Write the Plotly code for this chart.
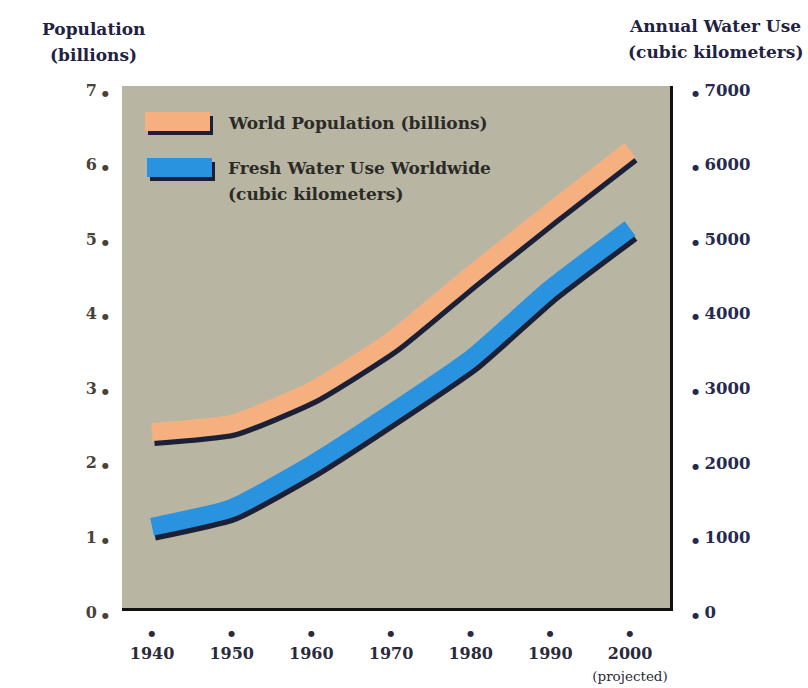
import plotly.graph_objects as go

# ---------------- data ----------------
years = [1940, 1950, 1960, 1970, 1980, 1990, 2000]
population_billions = [2.36, 2.47, 2.91, 3.58, 4.46, 5.31, 6.14]
water_use_km3 = [1090, 1340, 1920, 2610, 3340, 4280, 5090]

year_labels = ["1940", "1950", "1960", "1970", "1980", "1990", "2000"]
year_notes = ["", "", "", "", "", "", "(projected)"]
pop_ticks = [0, 1, 2, 3, 4, 5, 6, 7]
water_ticks = [0, 1000, 2000, 3000, 4000, 5000, 6000, 7000]

series_names = ["World Population (billions)",
                "Fresh Water Use Worldwide<br>(cubic kilometers)"]

# ---------------- layout geometry / style ----------------
W, H = 808, 688
PL, PR, PT, PB = 122, 670, 86, 608          # plot area in pixels
X_RANGE = [1936.23, 2005.02]
Y_RANGE = [0, 7]
Y2_RANGE = [0, 7000]
SH_X = 0.25       # shadow shift right (years)
SH_YP = 0.067     # shadow shift down (billions)
SH_YW = 67        # shadow shift down (km3)

ORANGE = "#f6b080"
BLUE = "#2a93e0"
SHADOW = "#1b2036"
BG = "rgb(184,182,163)"
FONT = "DejaVu Serif"
LINE_W = 18
LINE_SHAPE = dict(shape="spline", smoothing=0.5)


def px(xp):
    return (xp - PL) / (PR - PL)


def py(yp):
    return (PB - yp) / (PB - PT)


fig = go.Figure()

# shadows (base, shifted axes)
fig.add_trace(go.Scatter(x=years, y=population_billions, xaxis="x", yaxis="y",
                         mode="lines", line=dict(color=SHADOW, width=LINE_W, **LINE_SHAPE),
                         hoverinfo="skip", showlegend=False))
fig.add_trace(go.Scatter(x=years, y=water_use_km3, xaxis="x", yaxis="y2",
                         mode="lines", line=dict(color=SHADOW, width=LINE_W, **LINE_SHAPE),
                         hoverinfo="skip", showlegend=False))
# main ribbons (visible axes)
fig.add_trace(go.Scatter(x=years, y=population_billions, xaxis="x2", yaxis="y3",
                         name=series_names[0], mode="lines",
                         line=dict(color=ORANGE, width=LINE_W, **LINE_SHAPE),
                         showlegend=False))
fig.add_trace(go.Scatter(x=years, y=water_use_km3, xaxis="x2", yaxis="y4",
                         name=series_names[1].replace("<br>", " "), mode="lines",
                         line=dict(color=BLUE, width=LINE_W, **LINE_SHAPE),
                         showlegend=False))

dot = "<span style='font-size:8px'>●</span>"
x_ticktext = []
for lab, note in zip(year_labels, year_notes):
    t = dot + "<br><span style='font-size:16px'><b>" + lab + "</b></span>"
    if note:
        t += "<br><span style='font-size:13.5px'>" + note + "</span>"
    x_ticktext.append(t)

left_ticktext = ["<b>%d</b> %s" % (v, dot) for v in pop_ticks]
right_ticktext = ["%s <b>%d</b>" % (dot, v) for v in water_ticks]

hidden = dict(visible=False, fixedrange=True, automargin=False, showgrid=False, zeroline=False)

fig.update_layout(
    template="none",
    width=W, height=H,
    margin=dict(l=PL, r=W - PR, t=PT, b=H - PB, pad=0, autoexpand=False),
    paper_bgcolor="white",
    plot_bgcolor=BG,
    showlegend=False,
    font=dict(family=FONT, color="#2a2a3a"),
    xaxis=dict(range=[X_RANGE[0] - SH_X, X_RANGE[1] - SH_X], **hidden),
    yaxis=dict(range=[Y_RANGE[0] + SH_YP, Y_RANGE[1] + SH_YP], **hidden),
    yaxis2=dict(range=[Y2_RANGE[0] + SH_YW, Y2_RANGE[1] + SH_YW],
                overlaying="y", anchor="x", **hidden),
    xaxis2=dict(range=X_RANGE, overlaying="x", anchor="y", side="bottom",
                tickmode="array", tickvals=years, ticktext=x_ticktext,
                tickfont=dict(family=FONT, size=17, color="#2a2a3a"),
                ticks="", showgrid=False, zeroline=False, automargin=False,
                showline=True, linecolor="#111111", linewidth=3,
                ticklabelstandoff=5, fixedrange=True),
    yaxis3=dict(range=Y_RANGE, overlaying="y", anchor="x", side="left",
                tickmode="array", tickvals=pop_ticks, ticktext=left_ticktext,
                tickfont=dict(family=FONT, size=16, color="#4a4236"),
                ticks="", showgrid=False, zeroline=False, showline=False,
                automargin=False, ticklabelstandoff=12, ticklabelshift=4,
                fixedrange=True),
    yaxis4=dict(range=Y2_RANGE, overlaying="y", anchor="x", side="right",
                tickmode="array", tickvals=water_ticks, ticktext=right_ticktext,
                tickfont=dict(family=FONT, size=16.5, color="#262a4e"),
                ticks="", showgrid=False, zeroline=False,
                showline=True, linecolor="#111111", linewidth=3,
                automargin=False, ticklabelstandoff=16, ticklabelshift=4,
                fixedrange=True),
)

# axis titles
title_font = dict(family=FONT, size=17, color="#1f2240")
for txt, xc, yc in [("<b>Population</b>", 93, 29), ("<b>(billions)</b>", 93, 55),
                    ("<b>Annual Water Use</b>", 715, 26), ("<b>(cubic kilometers)</b>", 715, 52)]:
    fig.add_annotation(text=txt, xref="paper", yref="paper", x=px(xc), y=py(yc),
                       xanchor="center", yanchor="middle", showarrow=False, font=title_font)

# legend (drawn manually so the swatches can be thick ribbons)
swatches = [(ORANGE, 145, 210, 112, 131), (BLUE, 147, 212, 158, 177)]
for col, x0, x1, y0, y1 in swatches:
    fig.add_shape(type="rect", xref="paper", yref="paper",
                  x0=px(x0 + 3), x1=px(x1 + 3), y0=py(y0 + 4), y1=py(y1 + 4),
                  fillcolor=SHADOW, line=dict(width=0))
    fig.add_shape(type="rect", xref="paper", yref="paper",
                  x0=px(x0), x1=px(x1), y0=py(y0), y1=py(y1),
                  fillcolor=col, line=dict(width=0))

leg_font = dict(family=FONT, size=17, color="#2b2a26")
legend_lines = [(series_names[0], 123)] + list(zip(series_names[1].split("<br>"), [168, 194]))
for txt, yc in legend_lines:
    fig.add_annotation(text="<b>" + txt + "</b>", xref="paper", yref="paper",
                       x=px(226), y=py(yc), xanchor="left", yanchor="middle",
                       showarrow=False, font=leg_font, align="left")

fig.write_html("out.html")
